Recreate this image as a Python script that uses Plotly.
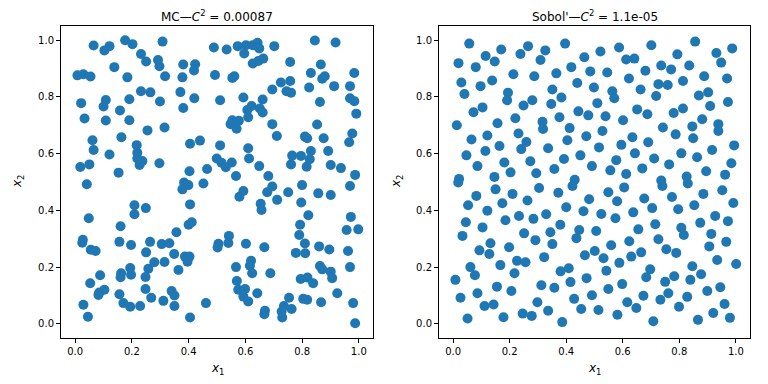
import plotly.graph_objects as go

# ---- Monte Carlo sample (left panel) ----
mc_x1 = [
    0.176, 0.202, 0.308, 0.065, 0.121, 0.103, 0.489, 0.232, 0.250, 0.292, 0.297, 0.317, 0.138, 0.381, 0.423,
    0.419, 0.008, 0.029, 0.054, 0.184, 0.378, 0.493, 0.232, 0.265, 0.371, 0.021, 0.108, 0.100, 0.191, 0.299,
    0.420, 0.158, 0.381, 0.033, 0.108, 0.191, 0.255, 0.315, 0.061, 0.163, 0.065, 0.217, 0.219, 0.219, 0.237,
    0.227, 0.121, 0.405, 0.440, 0.018, 0.050, 0.297, 0.153, 0.465, 0.403,
    0.534, 0.573, 0.602, 0.596, 0.626, 0.643, 0.649, 0.702, 0.845, 0.918, 0.663, 0.646, 0.626, 0.758, 0.866,
    0.831, 0.880, 0.871, 0.984, 0.554, 0.561, 0.725, 0.758, 0.695, 0.745, 0.761, 0.825, 0.913, 0.969, 0.511,
    0.593, 0.661, 0.863, 0.969, 0.984, 0.622, 0.607, 0.651, 0.661, 0.610, 0.991, 0.554, 0.548, 0.569, 0.577,
    0.695, 0.853, 0.711, 0.810, 0.818, 0.876, 0.977, 0.966, 0.511, 0.610, 0.831, 0.892, 0.613, 0.765, 0.796,
    0.827, 0.761, 0.816, 0.499, 0.516, 0.531, 0.552, 0.649, 0.901, 0.937, 0.567, 0.681, 0.987,
    0.041, 0.384, 0.399, 0.378, 0.452, 0.209, 0.249, 0.209, 0.405, 0.048, 0.160, 0.400, 0.411, 0.357, 0.027,
    0.025, 0.156, 0.197, 0.264, 0.305, 0.332, 0.055, 0.072, 0.250, 0.349, 0.387, 0.403, 0.396, 0.279, 0.315,
    0.258, 0.194, 0.197, 0.162, 0.160, 0.248, 0.364, 0.088, 0.053, 0.103, 0.085, 0.082, 0.248, 0.340, 0.350,
    0.156, 0.268, 0.311, 0.170, 0.194, 0.229, 0.350, 0.461, 0.029, 0.045, 0.405,
    0.695, 0.677, 0.800, 0.969, 0.593, 0.579, 0.751, 0.857, 0.901, 0.712, 0.797, 0.654, 0.657, 0.822, 0.972,
    0.793, 0.957, 0.998, 0.790, 0.542, 0.540, 0.505, 0.502, 0.602, 0.667, 0.810, 0.778, 0.811, 0.860, 0.896,
    0.962, 0.620, 0.616, 0.624, 0.567, 0.688, 0.863, 0.871, 0.901, 0.906, 0.969, 0.795, 0.819, 0.839, 0.570,
    0.575, 0.599, 0.593, 0.610, 0.642, 0.924, 0.754, 0.804, 0.818, 0.867, 0.980, 0.669, 0.667, 0.736, 0.728,
    0.730, 0.763, 0.987,
]
mc_x2 = [
    1.000, 0.986, 0.995, 0.981, 0.979, 0.964, 0.974, 0.951, 0.925, 0.930, 0.908, 0.873, 0.905, 0.914, 0.915,
    0.893, 0.876, 0.880, 0.872, 0.869, 0.869, 0.877, 0.820, 0.816, 0.817, 0.778, 0.789, 0.766, 0.792, 0.784,
    0.795, 0.752, 0.761, 0.724, 0.717, 0.718, 0.682, 0.692, 0.647, 0.658, 0.613, 0.630, 0.603, 0.583, 0.574,
    0.560, 0.597, 0.635, 0.646, 0.553, 0.562, 0.566, 0.533, 0.546, 0.538,
    0.967, 0.979, 0.982, 0.953, 0.982, 0.991, 0.971, 0.979, 0.999, 0.992, 0.935, 0.927, 0.918, 0.923, 0.914,
    0.884, 0.873, 0.864, 0.884, 0.867, 0.873, 0.851, 0.856, 0.826, 0.820, 0.815, 0.833, 0.838, 0.838, 0.788,
    0.798, 0.791, 0.782, 0.795, 0.785, 0.768, 0.754, 0.759, 0.745, 0.728, 0.741, 0.718, 0.704, 0.688, 0.716,
    0.704, 0.703, 0.662, 0.660, 0.654, 0.654, 0.671, 0.640, 0.629, 0.619, 0.609, 0.609, 0.583, 0.593, 0.592,
    0.580, 0.562, 0.554, 0.583, 0.568, 0.552, 0.569, 0.556, 0.560, 0.549, 0.521, 0.521, 0.525,
    0.492, 0.498, 0.489, 0.474, 0.495, 0.418, 0.408, 0.386, 0.421, 0.372, 0.344, 0.349, 0.358, 0.323, 0.296,
    0.286, 0.289, 0.278, 0.289, 0.281, 0.284, 0.261, 0.257, 0.252, 0.246, 0.237, 0.237, 0.219, 0.217, 0.218,
    0.194, 0.197, 0.173, 0.178, 0.164, 0.165, 0.190, 0.171, 0.143, 0.120, 0.110, 0.102, 0.123, 0.116, 0.100,
    0.104, 0.092, 0.081, 0.073, 0.060, 0.063, 0.063, 0.073, 0.067, 0.025, 0.022,
    0.484, 0.464, 0.489, 0.486, 0.468, 0.448, 0.464, 0.460, 0.454, 0.437, 0.428, 0.423, 0.401, 0.383, 0.377,
    0.349, 0.331, 0.333, 0.313, 0.310, 0.285, 0.282, 0.269, 0.282, 0.270, 0.283, 0.250, 0.249, 0.273, 0.262,
    0.257, 0.222, 0.205, 0.178, 0.200, 0.178, 0.204, 0.192, 0.184, 0.161, 0.200, 0.158, 0.163, 0.143, 0.151,
    0.120, 0.123, 0.096, 0.079, 0.108, 0.108, 0.092, 0.088, 0.085, 0.076, 0.073, 0.046, 0.034, 0.063, 0.043,
    0.022, 0.052, 0.002,
]

# ---- Sobol' sample (right panel) ----
sobol_x1 = [
    0.057, 0.265, 0.396, 0.170, 0.115, 0.147, 0.238, 0.326, 0.309, 0.464, 0.019, 0.080, 0.213, 0.287, 0.365,
    0.418, 0.485, 0.029, 0.097, 0.138, 0.439, 0.498, 0.040, 0.194, 0.191, 0.351, 0.383, 0.280, 0.249, 0.347,
    0.072, 0.104, 0.443, 0.478, 0.013, 0.157, 0.220, 0.316, 0.318, 0.376, 0.412, 0.065, 0.121, 0.231, 0.259,
    0.241, 0.336, 0.404, 0.471, 0.164, 0.114, 0.047, 0.086, 0.181, 0.273, 0.392, 0.450, 0.491, 0.146, 0.203,
    0.294, 0.358, 0.021, 0.430,
    0.521, 0.587, 0.701, 0.856, 0.987, 0.931, 0.793, 0.612, 0.641, 0.948, 0.545, 0.736, 0.771, 0.835, 0.680,
    0.622, 0.726, 0.759, 0.663, 0.813, 0.888, 0.969, 0.563, 0.570, 0.718, 0.869, 0.902, 0.510, 0.651, 0.687,
    0.780, 0.813, 0.909, 0.972, 0.539, 0.601, 0.742, 0.846, 0.881, 0.938, 0.938, 0.528, 0.634, 0.690, 0.787,
    0.849, 0.595, 0.516, 0.643, 0.711, 0.807, 0.863, 0.916, 0.994, 0.577, 0.669, 0.764, 0.984, 0.556, 0.612,
    0.895, 0.962, 0.736, 0.826,
    0.018, 0.150, 0.304, 0.422, 0.372, 0.210, 0.082, 0.053, 0.174, 0.263, 0.400, 0.481, 0.121, 0.461, 0.233,
    0.185, 0.284, 0.329, 0.045, 0.104, 0.379, 0.446, 0.436, 0.344, 0.251, 0.033, 0.291, 0.351, 0.132, 0.128,
    0.093, 0.198, 0.501, 0.466, 0.322, 0.226, 0.256, 0.167, 0.061, 0.077, 0.217, 0.380, 0.409, 0.008, 0.472,
    0.155, 0.312, 0.358, 0.415, 0.206, 0.086, 0.026, 0.428, 0.491, 0.298, 0.111, 0.143, 0.336, 0.453, 0.051,
    0.178, 0.246, 0.278, 0.386,
    0.740, 0.830, 0.605, 0.549, 0.580, 0.676, 0.774, 0.885, 0.952, 0.704, 0.796, 0.853, 0.991, 0.524, 0.574,
    0.637, 0.715, 0.807, 0.816, 0.874, 0.927, 0.972, 0.506, 0.655, 0.913, 0.726, 0.623, 0.559, 0.966, 0.906,
    0.754, 0.789, 0.665, 0.630, 0.532, 0.588, 0.934, 1.001, 0.846, 0.697, 0.683, 0.877, 0.542, 0.782, 0.839,
    0.750, 0.761, 0.598, 0.549, 0.945, 0.899, 0.673, 0.828, 0.733, 0.616, 0.648, 0.799, 0.960, 0.514, 0.581,
    0.708, 0.866, 0.920, 0.979,
]
sobol_x2 = [
    0.988, 0.979, 0.988, 0.967, 0.944, 0.925, 0.951, 0.964, 0.930, 0.940, 0.919, 0.905, 0.880, 0.873, 0.883,
    0.905, 0.890, 0.851, 0.838, 0.858, 0.849, 0.833, 0.810, 0.815, 0.788, 0.826, 0.798, 0.788, 0.770, 0.775,
    0.746, 0.763, 0.749, 0.735, 0.700, 0.707, 0.725, 0.712, 0.687, 0.728, 0.690, 0.650, 0.664, 0.671, 0.641,
    0.616, 0.619, 0.647, 0.661, 0.627, 0.609, 0.594, 0.556, 0.569, 0.573, 0.581, 0.594, 0.556, 0.518, 0.534,
    0.531, 0.546, 0.511, 0.508,
    0.960, 0.974, 0.982, 0.995, 0.971, 0.955, 0.950, 0.932, 0.935, 0.921, 0.886, 0.911, 0.897, 0.911, 0.892,
    0.865, 0.845, 0.842, 0.826, 0.856, 0.873, 0.865, 0.820, 0.795, 0.803, 0.805, 0.816, 0.778, 0.756, 0.739,
    0.743, 0.759, 0.768, 0.782, 0.732, 0.718, 0.692, 0.696, 0.721, 0.704, 0.680, 0.680, 0.658, 0.640, 0.668,
    0.654, 0.631, 0.622, 0.601, 0.583, 0.601, 0.587, 0.613, 0.629, 0.577, 0.548, 0.562, 0.566, 0.541, 0.528,
    0.538, 0.526, 0.505, 0.519,
    0.498, 0.474, 0.479, 0.486, 0.462, 0.458, 0.451, 0.418, 0.425, 0.435, 0.411, 0.439, 0.399, 0.397, 0.380,
    0.365, 0.370, 0.386, 0.358, 0.340, 0.349, 0.331, 0.302, 0.323, 0.319, 0.310, 0.295, 0.281, 0.284, 0.246,
    0.259, 0.270, 0.257, 0.242, 0.235, 0.222, 0.217, 0.207, 0.200, 0.171, 0.178, 0.185, 0.196, 0.155, 0.161,
    0.131, 0.136, 0.127, 0.147, 0.116, 0.108, 0.092, 0.088, 0.101, 0.076, 0.063, 0.068, 0.046, 0.052, 0.019,
    0.023, 0.036, 0.028, 0.006,
    0.486, 0.495, 0.481, 0.464, 0.432, 0.442, 0.447, 0.458, 0.471, 0.408, 0.404, 0.418, 0.426, 0.387, 0.372,
    0.393, 0.351, 0.339, 0.313, 0.356, 0.380, 0.362, 0.327, 0.333, 0.317, 0.298, 0.291, 0.277, 0.289, 0.273,
    0.263, 0.250, 0.252, 0.237, 0.231, 0.215, 0.225, 0.211, 0.203, 0.192, 0.164, 0.175, 0.187, 0.168, 0.155,
    0.148, 0.108, 0.140, 0.123, 0.129, 0.116, 0.099, 0.095, 0.085, 0.076, 0.056, 0.060, 0.070, 0.049, 0.032,
    0.009, 0.014, 0.038, 0.021,
]

titles = ["MC—<i>C</i><sup>2</sup> = 0.00087", "Sobol'—<i>C</i><sup>2</sup> = 1.1e-05"]
tick_vals = [0.0, 0.2, 0.4, 0.6, 0.8, 1.0]
tick_text = ["0.0", "0.2", "0.4", "0.6", "0.8", "1.0"]

# the page body has an 8px margin; the figure is sized to fit inside the window
OFF = 8
W, H = 768 - 2 * OFF, 384 - 2 * OFF
blue = "#1f77b4"
font = "DejaVu Sans"


def fx(px):
    return (px - OFF) / W


def fy(py):
    return 1 - (py - OFF) / H


fig = go.Figure()
fig.add_trace(go.Scatter(x=mc_x1, y=mc_x2, mode="markers", xaxis="x", yaxis="y",
                         marker=dict(color=blue, size=10, line=dict(width=0)), showlegend=False))
fig.add_trace(go.Scatter(x=sobol_x1, y=sobol_x2, mode="markers", xaxis="x2", yaxis="y2",
                         marker=dict(color=blue, size=10, line=dict(width=0)), showlegend=False))

doms_x = [[fx(61), fx(373)], [fx(439), fx(750)]]
dom_y = [fy(338), fy(26)]

axis_common = dict(
    range=[-0.05, 1.05], showgrid=False, zeroline=False, showline=True, mirror=True,
    linecolor="black", linewidth=1, ticks="outside", ticklen=4, tickwidth=1, tickcolor="black",
    tickvals=tick_vals, ticktext=tick_text, tickfont=dict(family=font, size=10, color="black"),
    automargin=False,
)

fig.update_layout(
    width=W, height=H, margin=dict(l=0, r=0, t=0, b=0),
    paper_bgcolor="white", plot_bgcolor="white",
    xaxis=dict(domain=doms_x[0], anchor="y", **axis_common),
    yaxis=dict(domain=dom_y, anchor="x", **axis_common),
    xaxis2=dict(domain=doms_x[1], anchor="y2", **axis_common),
    yaxis2=dict(domain=dom_y, anchor="x2", **axis_common),
)

ann = []
ylab_px = [18, 397]
for i, t in enumerate(titles):
    cx = (doms_x[i][0] + doms_x[i][1]) / 2
    ann.append(dict(text=t, x=cx, y=fy(16), xref="paper", yref="paper", showarrow=False,
                    font=dict(family=font, size=12, color="black"), xanchor="center", yanchor="middle"))
    ann.append(dict(text="<i>x</i><sub>1</sub>", x=cx, y=fy(369), xref="paper", yref="paper",
                    showarrow=False, font=dict(family=font, size=12, color="black"),
                    xanchor="center", yanchor="middle"))
    ann.append(dict(text="<i>x</i><sub>2</sub>", x=fx(ylab_px[i]), y=(dom_y[0] + dom_y[1]) / 2,
                    xref="paper", yref="paper", showarrow=False, textangle=-90,
                    font=dict(family=font, size=12, color="black"), xanchor="center", yanchor="middle"))
fig.update_layout(annotations=ann)

fig.write_html("out.html")
